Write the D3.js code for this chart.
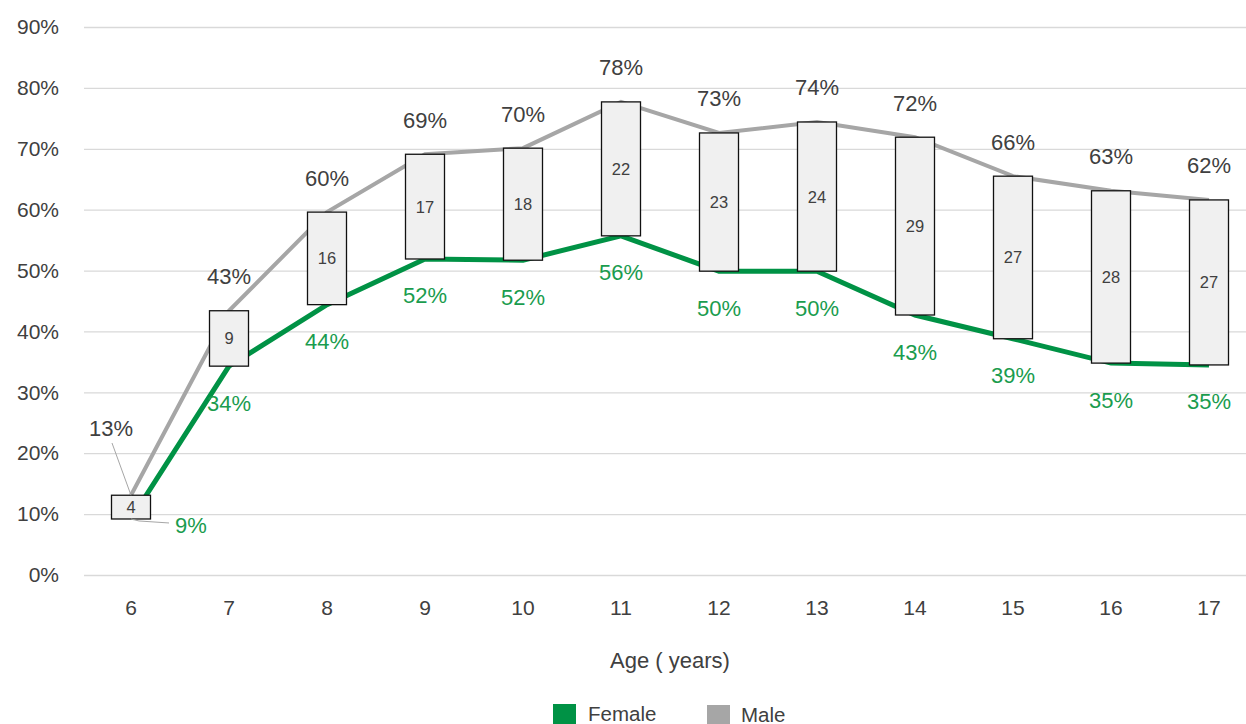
<!DOCTYPE html>
<html><head><meta charset="utf-8">
<script src="https://cdn.jsdelivr.net/npm/d3@7"></script>
<style>html,body{margin:0;padding:0;background:#fff;overflow:hidden}</style>
</head><body>
<svg id="c" width="1246" height="724"></svg>
<script>
const ages = ["6","7","8","9","10","11","12","13","14","15","16","17"];
const male = [13.1, 43.4, 59.6, 69.1, 70.1, 77.7, 72.6, 74.4, 71.9, 65.5, 63.1, 61.6];
const female = [9.2, 34.3, 44.4, 51.9, 51.7, 55.7, 49.9, 49.9, 42.7, 38.8, 34.8, 34.5];
const gapLabels = [4, 9, 16, 17, 18, 22, 23, 24, 29, 27, 28, 27];
const yTicks = [0,10,20,30,40,50,60,70,80,90];

const svg = d3.select("#c");
const font = "'Liberation Sans', Arial, sans-serif";
const txt = "#404040", grn = "#009245", grnTxt = "#1a9c4e", gry = "#a6a6a6";

const x = d3.scaleBand().domain(ages).range([82, 1258]);
const y = d3.scaleLinear().domain([0, 90]).range([575, 27]);
const cx = d => x(d) + x.bandwidth()/2;

// gridlines + y labels
const yAxis = d3.axisLeft(y).tickValues(yTicks).tickSize(-(1258-84)).tickFormat(d => d + "%").tickPadding(25);
const gy = svg.append("g").attr("transform", "translate(84,0)").call(yAxis);
gy.select(".domain").remove();
gy.selectAll(".tick line").attr("stroke", "#d9d9d9").attr("stroke-width", 1.3);
gy.selectAll(".tick text").attr("fill", txt).attr("font-size", 21).attr("font-family", font);

// x labels
const xAxis = d3.axisBottom(x).tickSize(0).tickPadding(0);
const gx = svg.append("g").attr("transform", "translate(0,608)").call(xAxis);
gx.select(".domain").remove();
gx.selectAll(".tick text").attr("fill", txt).attr("font-size", 21).attr("font-family", font).attr("dy", "0.35em");

svg.append("text").attr("x", 670).attr("y", 660).attr("text-anchor", "middle").attr("dominant-baseline", "central")
  .attr("fill", txt).attr("font-size", 22).attr("font-family", font).text("Age ( years)");

// lines
const line = vals => d3.line().x((d,i) => cx(ages[i])).y(d => y(d))(vals);
svg.append("path").attr("d", line(male)).attr("fill", "none").attr("stroke", gry).attr("stroke-width", 4);
svg.append("path").attr("d", line(female)).attr("fill", "none").attr("stroke", grn).attr("stroke-width", 5);

// boxes
const bw = 39;
const boxes = svg.append("g").selectAll("g").data(ages).join("g");
boxes.append("rect")
  .attr("x", d => cx(d) - bw/2)
  .attr("y", (d,i) => y(male[i]))
  .attr("width", bw)
  .attr("height", (d,i) => y(female[i]) - y(male[i]))
  .attr("fill", "#f0f0f0").attr("stroke", "#111").attr("stroke-width", 1.3);
boxes.append("text")
  .attr("x", d => cx(d))
  .attr("y", (d,i) => (y(male[i]) + y(female[i]))/2)
  .attr("text-anchor", "middle").attr("dominant-baseline", "central")
  .attr("fill", txt).attr("font-size", 16.5).attr("font-family", font)
  .text((d,i) => gapLabels[i]);

// value labels
const fmt = v => Math.round(v) + "%";
ages.forEach((a,i) => {
  let mx = cx(a), my = y(male[i]) - 34, fx = cx(a), fy = y(female[i]) + 37;
  if (i === 0) { mx = cx(a) - 20; my = 428; fx = cx(a) + 60; fy = 525; }
  svg.append("text").attr("x", mx).attr("y", my).attr("text-anchor", "middle").attr("dominant-baseline", "central")
    .attr("fill", txt).attr("font-size", 22).attr("font-family", font).text(fmt(male[i]));
  svg.append("text").attr("x", fx).attr("y", fy).attr("text-anchor", "middle").attr("dominant-baseline", "central")
    .attr("fill", grnTxt).attr("font-size", 22).attr("font-family", font).text(fmt(female[i]));
});
// leader lines for age 6
const a0 = cx(ages[0]);
svg.append("line").attr("x1", a0 - 19).attr("y1", 443).attr("x2", a0).attr("y2", y(male[0]))
  .attr("stroke", "#a6a6a6").attr("stroke-width", 1);
svg.append("path").attr("d", `M${a0},${y(female[0])} L${a0+8},${y(female[0])+2} L${a0+38},${y(female[0])+4}`)
  .attr("fill", "none").attr("stroke", "#a6a6a6").attr("stroke-width", 1);

// legend
const leg = svg.append("g");
leg.append("rect").attr("x", 553).attr("y", 704).attr("width", 23).attr("height", 20).attr("fill", grn);
leg.append("text").attr("x", 588).attr("y", 713).attr("dominant-baseline", "central").attr("fill", txt)
  .attr("font-size", 20.5).attr("font-family", font).text("Female");
leg.append("rect").attr("x", 707).attr("y", 705).attr("width", 23).attr("height", 20).attr("fill", gry);
leg.append("text").attr("x", 741).attr("y", 714).attr("dominant-baseline", "central").attr("fill", txt)
  .attr("font-size", 20.5).attr("font-family", font).text("Male");
</script>
</body></html>
